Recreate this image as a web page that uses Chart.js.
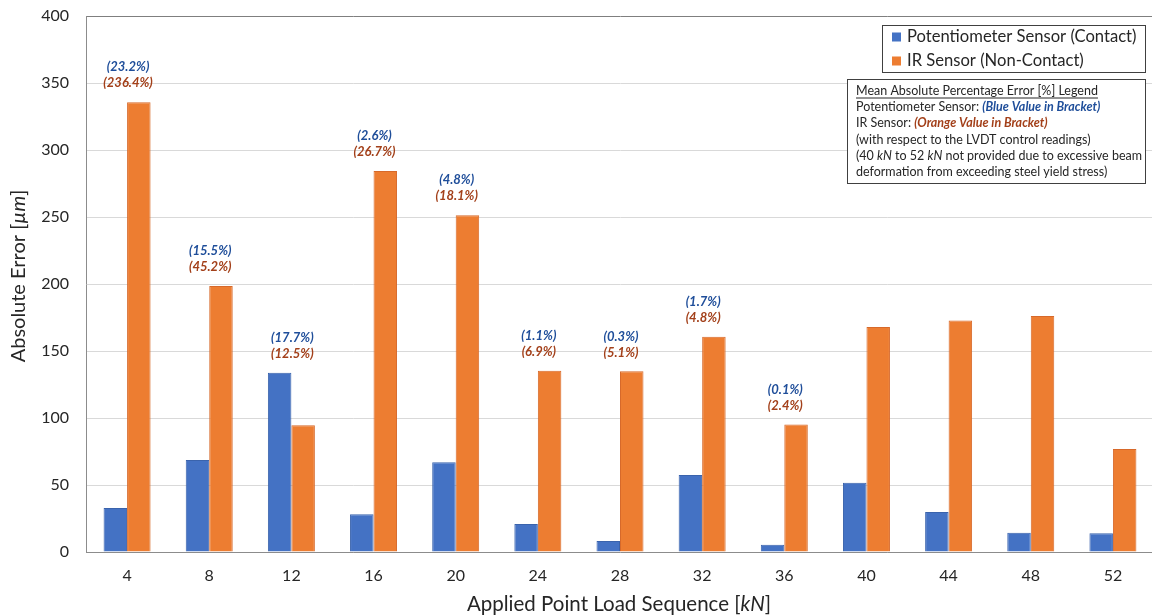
<!DOCTYPE html>
<html>
<head>
<meta charset="utf-8">
<title>Absolute Error by Applied Point Load</title>
<script src="https://cdn.jsdelivr.net/npm/chart.js@4.4.1/dist/chart.umd.min.js"></script>
<style>
  html, body { margin: 0; padding: 0; background: #fff; overflow: hidden; width: 1152px; height: 616px; }
  canvas { display: block; }
</style>
</head>
<body>
<canvas id="chart" width="1156" height="616"></canvas>
<script>
// Applied point load steps [kN]
const loads = [4, 8, 12, 16, 20, 24, 28, 32, 36, 40, 44, 48, 52];
// Absolute error [µm] of each sensor against the LVDT control
const potentiometerError = [32.8, 68.6, 133.7, 28.1, 67.0, 20.9, 8.2, 57.4, 5.5, 51.7, 29.8, 14.4, 13.9];
const irError = [335.6, 198.6, 94.5, 284.3, 251.3, 135.2, 134.8, 160.6, 95.2, 168.0, 172.8, 176.2, 76.8];
// Mean absolute percentage error [%], reported for 4 kN to 36 kN only
const potentiometerMape = [23.2, 15.5, 17.7, 2.6, 4.8, 1.1, 0.3, 1.7, 0.1];
const irMape = [236.4, 45.2, 12.5, 26.7, 18.1, 6.9, 5.1, 4.8, 2.4];
// Y axis ticks
const yTicks = [0, 50, 100, 150, 200, 250, 300, 350, 400];

const FONT = 'Lato, "Open Sans", sans-serif';
const BLUE = '#4472C4';
const ORANGE = '#ED7D31';
const BLUE_TEXT = '#1F4E9A';
const ORANGE_TEXT = '#A3401A';
const TEXT = '#262626';

function fontStr(style, size) {
  return (style || '') + ' ' + size + 'px ' + FONT;
}

// Draw a line of mixed-style text runs starting at x (left aligned, middle baseline)
function drawRuns(ctx, x, y, runs, size) {
  ctx.textBaseline = 'middle';
  ctx.textAlign = 'left';
  let cx = x;
  for (const r of runs) {
    ctx.font = fontStr(r.style, size);
    ctx.fillStyle = r.color || TEXT;
    ctx.fillText(r.text, cx, y);
    cx += ctx.measureText(r.text).width;
  }
  return cx - x;
}
function runsWidth(ctx, runs, size) {
  let w = 0;
  for (const r of runs) {
    ctx.font = fontStr(r.style, size);
    w += ctx.measureText(r.text).width;
  }
  return w;
}

const overlay = {
  id: 'overlay',
  afterDatasetsDraw(chart) {
    const { ctx, scales: { x, y } } = chart;
    ctx.save();
    // MAPE labels above each bar pair
    ctx.textAlign = 'center';
    ctx.textBaseline = 'middle';
    ctx.font = fontStr('italic bold', 13);
    for (let i = 0; i < potentiometerMape.length; i++) {
      const cx = x.getPixelForValue(i) + 1;
      const top = y.getPixelForValue(Math.max(potentiometerError[i], irError[i]));
      ctx.fillStyle = BLUE_TEXT;
      ctx.fillText('(' + potentiometerMape[i].toFixed(1) + '%)', cx, top - 35);
      ctx.fillStyle = ORANGE_TEXT;
      ctx.fillText('(' + irMape[i].toFixed(1) + '%)', cx, top - 19);
    }
    ctx.restore();
  },
  afterDraw(chart) {
    const { ctx, chartArea: a } = chart;
    ctx.save();

    // Series legend
    ctx.fillStyle = '#fff';
    ctx.fillRect(882, 25, 264, 48);
    ctx.strokeStyle = '#404040';
    ctx.lineWidth = 1;
    ctx.strokeRect(882.5, 25.5, 263, 47);
    chart.data.datasets.forEach((ds, i) => {
      const cy = 37 + i * 24;
      ctx.fillStyle = ds.backgroundColor;
      ctx.fillRect(892, cy - 4.5, 9, 9);
      ctx.font = fontStr('', 16.6);
      ctx.fillStyle = TEXT;
      ctx.textBaseline = 'middle';
      ctx.textAlign = 'left';
      ctx.fillText(ds.label, 907, cy);
    });

    // MAPE note box
    ctx.fillStyle = '#fff';
    ctx.fillRect(847, 79, 299, 105);
    ctx.strokeStyle = '#404040';
    ctx.strokeRect(847.5, 79.5, 298, 104);
    const fs = 12.5;
    const lx = 856;
    const lines = [
      [{ text: 'Mean Absolute Percentage Error [%] Legend' }],
      [{ text: 'Potentiometer Sensor: ' }, { text: '(Blue Value in Bracket)', style: 'italic bold', color: BLUE_TEXT }],
      [{ text: 'IR Sensor: ' }, { text: '(Orange Value in Bracket)', style: 'italic bold', color: ORANGE_TEXT }],
      [{ text: '(with respect to the LVDT control readings)' }],
      [{ text: '(40 ' }, { text: 'kN', style: 'italic' }, { text: ' to 52 ' }, { text: 'kN', style: 'italic' }, { text: ' not provided due to excessive beam' }],
      [{ text: 'deformation from exceeding steel yield stress)' }]
    ];
    lines.forEach((runs, i) => {
      const ly = 91 + i * 16.2;
      const w = drawRuns(ctx, lx, ly, runs, fs);
      if (i === 0) {
        ctx.strokeStyle = TEXT;
        ctx.beginPath();
        ctx.moveTo(lx, ly + 7);
        ctx.lineTo(lx + w, ly + 7);
        ctx.stroke();
      }
    });

    // Axis titles
    const xt = [{ text: 'Applied Point Load Sequence [' }, { text: 'kN', style: 'italic' }, { text: ']' }];
    const xs = 20.5;
    const xw = runsWidth(ctx, xt, xs);
    drawRuns(ctx, (a.left + a.right) / 2 - xw / 2 - 1, 604, xt, xs);

    const yt = [{ text: 'Absolute Error [' }, { text: 'µm', style: 'italic' }, { text: ']' }];
    const ys = 20;
    const yw = runsWidth(ctx, yt, ys);
    ctx.translate(19, (a.top + a.bottom) / 2 - 8);
    ctx.rotate(-Math.PI / 2);
    drawRuns(ctx, -yw / 2, 0, yt, ys);
    ctx.restore();
  }
};

new Chart(document.getElementById('chart'), {
  type: 'bar',
  data: {
    labels: loads.map(String),
    datasets: [
      { label: 'Potentiometer Sensor (Contact)', data: potentiometerError, backgroundColor: BLUE, borderColor: '#3A63AC', borderWidth: 1 },
      { label: 'IR Sensor (Non-Contact)', data: irError, backgroundColor: ORANGE, borderColor: '#D7692A', borderWidth: 1 }
    ]
  },
  options: {
    responsive: false,
    animation: false,
    devicePixelRatio: 1,
    layout: { padding: { top: 16, right: 2, left: 0, bottom: 0 } },
    datasets: { bar: { categoryPercentage: 0.572, barPercentage: 1 } },
    plugins: { legend: { display: false }, tooltip: { enabled: false } },
    scales: {
      x: {
        grid: { display: false, drawTicks: false },
        border: { display: true, color: '#8C8C8C', width: 1 },
        ticks: { font: { family: FONT, size: 16 }, color: TEXT, padding: 14 },
        afterFit(s) { s.height = 64; }
      },
      y: {
        min: yTicks[0],
        max: yTicks[yTicks.length - 1],
        afterBuildTicks(s) { s.ticks = yTicks.map(v => ({ value: v })); },
        grid: { color: c => (c.tick && c.tick.value === 400 ? '#7F7F7F' : '#D9D9D9'), drawTicks: false },
        border: { display: true, color: '#8C8C8C', width: 1 },
        ticks: { font: { family: FONT, size: 16 }, color: TEXT, padding: 17 },
        afterFit(s) { s.width = 86; s.paddingTop = 0; s.paddingBottom = 0; }
      }
    }
  },
  plugins: [overlay]
});
</script>
</body>
</html>
